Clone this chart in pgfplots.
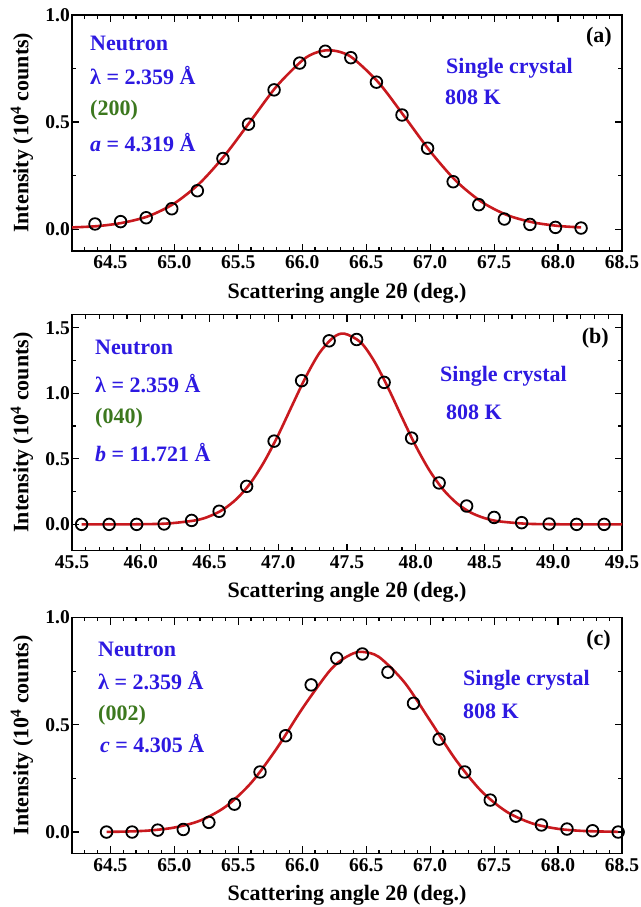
\documentclass[border=0pt]{standalone}
\usepackage{fontspec}
\setmainfont{Liberation Serif}
\usepackage{pgfplots}
\pgfplotsset{compat=1.18}
\definecolor{fitred}{RGB}{200,25,30}
\definecolor{txtblue}{RGB}{45,25,225}
\definecolor{hklgreen}{RGB}{60,120,30}

\newcommand{\annot}{\fontsize{22}{26}\selectfont\bfseries}
\newcommand{\tickfont}{\fontsize{19.5}{22}\selectfont\bfseries}

\pgfplotsset{
  panel/.style={
    width=550pt, height=236pt, scale only axis,
    anchor=south west,
    axis line style={line width=1.5pt},
    tick style={line width=1.2pt, black},
    major tick length=7pt, minor tick length=4pt,
    xtick distance=0.5, ytick distance=0.5,
    minor x tick num=4, minor y tick num=1,
    tick align=inside,
    xticklabel={\tickfont\pgfmathprintnumber[assume math mode=true,fixed,fixed zerofill,precision=1]{\tick}},
    yticklabel={\tickfont\pgfmathprintnumber[assume math mode=true,fixed,fixed zerofill,precision=1]{\tick}},
    xticklabel style={yshift=-5pt},
    yticklabel style={xshift=-2pt},
    xlabel={Scattering angle 2θ (deg.)},
    ylabel={Intensity (10\textsuperscript{4} counts)},
    label style={font=\annot},
    x label style={at={(axis description cs:0.5,-0.178)},anchor=center},
    y label style={at={(axis description cs:-0.091,0.5)},anchor=center},
  },
  fitline/.style={fitred, line width=2.6pt, smooth, no markers},
  obs/.style={only marks, mark=o, mark size=5.8pt, mark options={black, line width=1.8pt}},
}

\begin{document}
\begin{tikzpicture}[every node/.append style={inner sep=0pt}]

% ---------- (a) (200) ----------
\begin{axis}[panel, at={(72pt,656.2pt)},
    xmin=64.2, xmax=68.5, ymin=-0.1, ymax=1.0]
  \addplot[fitline] coordinates {
    (64.2,0.009)(64.4,0.015)(64.6,0.031)(64.8,0.062)(65.0,0.121)(65.2,0.216)
    (65.4,0.349)(65.6,0.508)(65.8,0.667)(66.0,0.787)(66.1,0.822)(66.2,0.835)
    (66.3,0.826)(66.4,0.796)(66.6,0.682)(66.8,0.525)(67.0,0.364)(67.2,0.227)
    (67.4,0.129)(67.6,0.067)(67.8,0.033)(68.0,0.016)(68.18,0.009)};
  \addplot[obs] coordinates {
    (64.38,0.025)(64.58,0.036)(64.78,0.054)(64.98,0.096)(65.18,0.18)
    (65.38,0.33)(65.58,0.49)(65.78,0.65)(65.98,0.775)(66.18,0.83)
    (66.38,0.80)(66.58,0.686)(66.78,0.533)(66.98,0.378)(67.18,0.222)
    (67.38,0.115)(67.58,0.048)(67.78,0.023)(67.98,0.009)(68.18,0.006)};
\end{axis}

% ---------- (b) (040) ----------
\begin{axis}[panel, at={(72pt,356.4pt)},
    xmin=45.5, xmax=49.5, ymin=-0.2, ymax=1.6]
  \addplot[fitline] coordinates {
    (45.57,0)(45.8,0)(46.0,0.001)(46.2,0.007)(46.4,0.031)(46.5,0.062)
    (46.6,0.114)(46.7,0.197)(46.8,0.318)(46.9,0.482)(47.0,0.682)(47.1,0.905)
    (47.2,1.124)(47.3,1.308)(47.4,1.425)(47.48,1.455)(47.6,1.388)(47.7,1.241)
    (47.8,1.039)(47.9,0.815)(48.0,0.598)(48.1,0.411)(48.2,0.265)(48.3,0.160)
    (48.4,0.090)(48.5,0.048)(48.6,0.024)(48.8,0.005)(49.0,0.001)(49.2,0)(49.5,0)};
  \addplot[obs] coordinates {
    (45.57,0)(45.77,0)(45.97,0)(46.17,0.003)(46.37,0.03)
    (46.57,0.10)(46.77,0.29)(46.97,0.635)(47.17,1.096)(47.37,1.40)
    (47.57,1.41)(47.77,1.083)(47.97,0.658)(48.17,0.316)(48.37,0.14)
    (48.57,0.053)(48.77,0.013)(48.97,0.003)(49.17,0)(49.37,0)};
\end{axis}

% ---------- (c) (002) ----------
\begin{axis}[panel, at={(72pt,53.5pt)},
    xmin=64.2, xmax=68.5, ymin=-0.1, ymax=1.0]
  \addplot[fitline] coordinates {
    (64.47,0.001)(64.6,0.002)(64.8,0.007)(65.0,0.021)(65.2,0.053)(65.4,0.118)
    (65.6,0.229)(65.8,0.389)(66.0,0.575)(66.2,0.741)(66.3,0.799)(66.4,0.833)
    (66.47,0.84)(66.6,0.816)(66.8,0.697)(67.0,0.519)(67.2,0.337)(67.4,0.191)
    (67.6,0.094)(67.8,0.040)(68.0,0.015)(68.2,0.005)(68.47,0.001)};
  \addplot[obs] coordinates {
    (64.47,0)(64.67,0)(64.87,0.009)(65.07,0.012)(65.27,0.045)
    (65.47,0.13)(65.67,0.28)(65.87,0.449)(66.07,0.686)(66.27,0.81)
    (66.47,0.83)(66.67,0.745)(66.87,0.60)(67.07,0.433)(67.27,0.28)
    (67.47,0.149)(67.67,0.074)(67.87,0.033)(68.07,0.014)(68.27,0.006)(68.47,0)};
\end{axis}

% annotations (a)
\node[anchor=west, txtblue, font=\annot] at (90pt,864pt) {Neutron};
\node[anchor=west, txtblue, font=\annot] at (90pt,831pt) {λ = 2.359 Å};
\node[anchor=west, hklgreen, font=\annot] at (90pt,797pt) {(200)};
\node[anchor=west, txtblue, font=\annot] at (90pt,764pt) {\textit{a} = 4.319 Å};
\node[anchor=west, txtblue, font=\annot] at (446pt,839pt) {Single crystal};
\node[anchor=west, txtblue, font=\annot] at (445pt,810pt) {808 K};
\node[anchor=east, black, font=\annot] at (612pt,870pt) {(a)};

% annotations (b)
\node[anchor=west, txtblue, font=\annot] at (95pt,560pt) {Neutron};
\node[anchor=west, txtblue, font=\annot] at (95pt,523pt) {λ = 2.359 Å};
\node[anchor=west, hklgreen, font=\annot] at (95pt,489pt) {(040)};
\node[anchor=west, txtblue, font=\annot] at (95pt,454pt) {\textit{b} = 11.721 Å};
\node[anchor=west, txtblue, font=\annot] at (440pt,531pt) {Single crystal};
\node[anchor=west, txtblue, font=\annot] at (446pt,495pt) {808 K};
\node[anchor=east, black, font=\annot] at (609pt,569pt) {(b)};

% annotations (c)
\node[anchor=west, txtblue, font=\annot] at (98pt,258pt) {Neutron};
\node[anchor=west, txtblue, font=\annot] at (98pt,226pt) {λ = 2.359 Å};
\node[anchor=west, hklgreen, font=\annot] at (98pt,192pt) {(002)};
\node[anchor=west, txtblue, font=\annot] at (100pt,163pt) {\textit{c} = 4.305 Å};
\node[anchor=west, txtblue, font=\annot] at (463pt,227pt) {Single crystal};
\node[anchor=west, txtblue, font=\annot] at (463pt,196pt) {808 K};
\node[anchor=east, black, font=\annot] at (611pt,267pt) {(c)};

\pgfresetboundingbox
\path[use as bounding box] (0,0) rectangle (640pt,907pt);
\end{tikzpicture}
\end{document}
